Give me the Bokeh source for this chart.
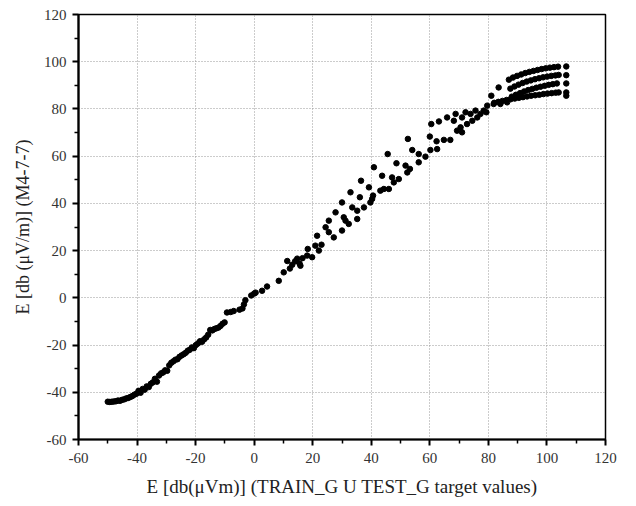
from bokeh.plotting import figure
from bokeh.models import FixedTicker, Range1d
from bokeh.embed import file_html
from bokeh.resources import INLINE

# ---- data ----
lower_x = [-50.0, -49.3, -48.6, -47.9, -47.2, -46.5, -45.8, -45.1, -44.4, -43.7,
           -43.0, -42.3, -41.6, -40.9, -40.2, -39.5, -38.8, -38.1, -37.4, -36.7,
           -36.0, -35.3, -34.6, -33.9, -33.2, -32.5, -31.8, -31.1, -30.4, -29.7,
           -29.0, -28.3, -27.6, -26.9, -26.2, -25.5, -24.8, -24.1, -23.4, -22.7,
           -22.0, -21.3, -20.6, -19.9, -19.2, -18.5, -17.8, -17.1, -16.4, -15.7,
           -15.0, -14.3, -13.6, -12.9, -12.2, -11.5, -10.8, -10.1]
lower_y = [-44.0, -44.1, -44.0, -43.9, -43.8, -43.5, -43.6, -43.2, -43.0, -42.6,
           -42.4, -42.0, -41.6, -41.0, -40.6, -39.4, -40.2, -38.6, -38.9, -37.5,
           -37.8, -36.4, -35.8, -34.3, -35.5, -32.9, -32.0, -31.6, -30.7, -30.9,
           -28.6, -27.5, -26.9, -26.2, -26.0, -25.0, -24.4, -23.9, -23.3, -22.4,
           -22.0, -21.0, -21.3, -20.0, -19.3, -18.4, -18.6, -17.6, -16.8, -15.6,
           -13.6, -13.8, -13.2, -12.9, -12.6, -11.9, -11.0, -10.4]

mid_x = [-9.3, -8.0, -7.0, -5.0, -4.0, -3.5, -3.0, -1.0, 0.0, 0.5,
         2.7, 4.4, 8.4, 10.1, 11.3, 12.2, 13.0, 14.0, 14.7, 15.5,
         15.8, 16.5, 18.1, 18.3, 19.8, 20.9, 21.5, 22.1, 23.0, 24.4,
         25.5, 25.5, 27.2, 27.8, 30.0, 30.6, 31.2, 30.0, 32.3, 32.9,
         33.5, 35.2, 35.2, 36.1, 36.5, 37.5, 39.2, 39.7, 40.3, 40.6,
         40.9, 43.7, 43.1, 44.3, 45.6, 46.0, 47.1, 47.7, 48.6, 49.4,
         51.7, 52.3, 52.5, 53.2, 54.0, 56.2, 56.2, 58.5]
mid_y = [-6.2, -6.0, -5.6, -5.0, -4.5, -2.8, -1.0, 1.0, 1.8, 2.2,
         3.0, 4.8, 7.2, 10.8, 15.6, 12.4, 14.0, 15.5, 16.6, 14.5,
         13.6, 16.8, 17.9, 20.7, 17.2, 22.1, 26.3, 20.0, 22.5, 29.9,
         32.7, 27.8, 25.6, 36.2, 40.4, 34.1, 32.7, 28.5, 31.3, 44.7,
         38.3, 36.9, 33.4, 42.6, 49.6, 38.3, 46.8, 40.4, 41.9, 43.3,
         55.3, 51.7, 45.4, 46.1, 60.9, 46.1, 51.0, 48.9, 57.0, 50.3,
         56.0, 53.1, 67.3, 54.6, 62.6, 60.9, 57.4, 59.8]

upper_x = [60.2, 60.0, 60.5, 62.3, 62.5, 63.1, 64.8, 65.9, 67.0, 68.2,
           68.8, 69.3, 70.5, 71.0, 71.0, 72.2, 72.7, 73.9, 74.5, 75.6,
           76.2, 77.3, 78.4, 79.6, 79.3, 81.0, 81.8, 83.5, 84.1, 86.4]
upper_y = [62.6, 68.3, 73.6, 66.3, 63.0, 74.7, 66.9, 76.4, 66.9, 75.0,
           77.9, 70.8, 72.2, 76.4, 70.1, 78.6, 73.6, 77.9, 75.0, 79.3,
           76.4, 77.9, 79.3, 81.4, 78.6, 85.6, 82.1, 89.1, 82.1, 82.8]

band_x = [87.0, 88.4, 89.8, 91.2, 92.6, 94.0, 95.4, 96.8, 98.2, 99.6, 101.0, 102.4, 103.8,
          87.5, 88.9, 90.3, 91.7, 93.1, 94.5, 95.9, 97.3, 98.7, 100.1, 101.5, 102.9, 104.0,
          88.0, 89.4, 90.8, 92.2, 93.6, 95.0, 96.4, 97.8, 99.2, 100.6, 102.0, 103.4,
          82.0, 83.4, 84.8, 86.2, 87.6, 89.0, 90.4, 91.8, 93.2, 94.6, 96.0, 97.4, 98.8, 100.2, 101.6, 103.0, 104.0,
          106.6, 106.6, 106.6, 106.6, 106.6]
band_y = [92.4, 93.3, 94.0, 94.6, 95.2, 95.7, 96.1, 96.5, 96.9, 97.2, 97.5, 97.7, 97.9,
          88.6, 89.5, 90.3, 91.0, 91.6, 92.1, 92.6, 93.0, 93.4, 93.7, 94.0, 94.2, 94.4,
          85.2, 86.0, 86.7, 87.4, 88.0, 88.5, 89.0, 89.4, 89.8, 90.2, 90.5, 90.8,
          82.6, 83.0, 83.4, 83.8, 84.1, 84.4, 84.7, 85.0, 85.3, 85.6, 85.8, 86.0, 86.3, 86.5, 86.7, 86.9, 87.0,
          98.0, 94.3, 90.8, 87.0, 85.6]

xs = lower_x + mid_x + upper_x + band_x
ys = lower_y + mid_y + upper_y + band_y

tick_values = [-60, -40, -20, 0, 20, 40, 60, 80, 100, 120]
tick_labels = ["-60", "-40", "-20", "0", "20", "40", "60", "80", "100", "120"]
minor_values = [-50, -30, -10, 10, 30, 50, 70, 90, 110]

x_label = "E [db(\u03bcVm)] (TRAIN_G U TEST_G target values)"
y_label = "E [db (\u03bcV/m)] (M4-7-7)"

FONT = "Liberation Serif"

p = figure(width=620, height=500, output_backend="svg", toolbar_location=None,
           x_range=Range1d(-60, 120), y_range=Range1d(-60, 120),
           min_border_left=78, min_border_right=15, min_border_top=14, min_border_bottom=61)

p.scatter(xs, ys, size=5.5, marker="circle", fill_color="black", line_color="black")

for ax in (p.xaxis[0], p.yaxis[0]):
    ax.ticker = FixedTicker(ticks=tick_values, minor_ticks=minor_values)
    ax.major_label_overrides = dict(zip(tick_values, tick_labels))
    ax.axis_line_width = 2.2
    ax.axis_line_color = "black"
    ax.major_tick_line_width = 2
    ax.minor_tick_line_width = 1.5
    ax.major_tick_out = 6
    ax.major_tick_in = 0
    ax.minor_tick_out = 4
    ax.minor_tick_in = 0
    ax.major_label_text_font = FONT
    ax.major_label_text_font_size = "15px"
    ax.major_label_text_color = "#333333"
    ax.axis_label_text_font = FONT
    ax.axis_label_text_font_style = "normal"
    ax.axis_label_text_color = "#222222"

p.xaxis.axis_label = x_label
p.yaxis.axis_label = y_label
p.xaxis.axis_label_text_font_size = "19px"
p.yaxis.axis_label_text_font_size = "18px"
p.xaxis.major_label_standoff = 7
p.yaxis.major_label_standoff = 6
p.xaxis.axis_label_standoff = 10
p.yaxis.axis_label_standoff = 8

p.xgrid.ticker = FixedTicker(ticks=tick_values)
p.ygrid.ticker = FixedTicker(ticks=tick_values)
p.grid.grid_line_color = "#999999"
p.grid.grid_line_dash = "1 2"
p.grid.grid_line_width = 1

p.outline_line_color = "black"
p.outline_line_width = 1.5
p.outline_line_alpha = 1
p.background_fill_color = "white"
p.border_fill_color = "white"

open("out.html", "w").write(file_html(p, INLINE))
